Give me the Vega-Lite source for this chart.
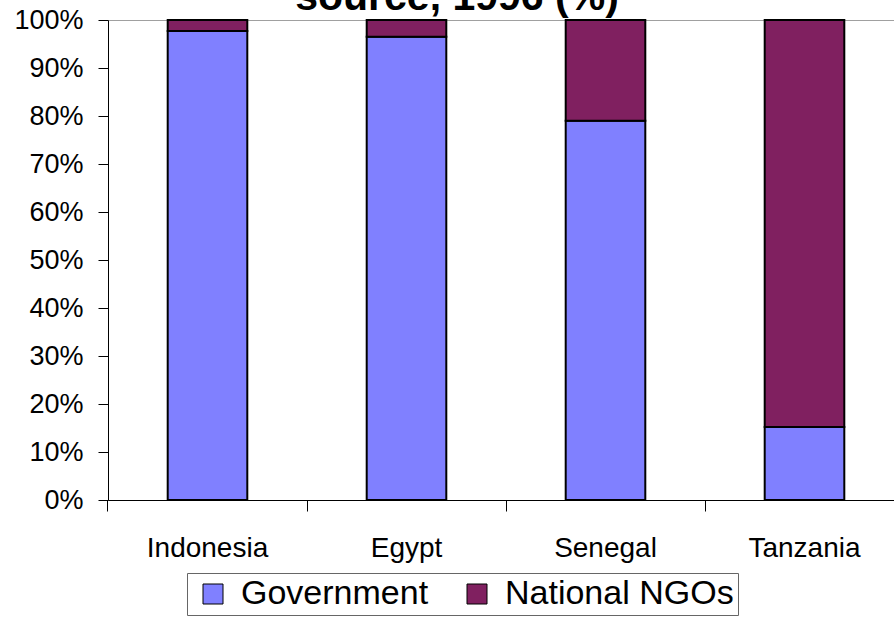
{
  "$schema": "https://vega.github.io/schema/vega-lite/v6.json",
  "autosize": "none",
  "padding": {"left": 108, "top": 20, "right": 0, "bottom": 117},
  "width": 796,
  "height": 480,
  "background": "white",
  "config": {
    "font": "Liberation Sans",
    "view": {"stroke": "#a0a0a0", "strokeWidth": 1}
  },
  "title": {
    "text": "source, 1996 (%)",
    "font": "Liberation Sans",
    "fontSize": 41,
    "fontWeight": "bold",
    "color": "black",
    "anchor": "middle",
    "baseline": "alphabetic",
    "offset": 0,
    "dy": 45,
    "dx": -49
  },
  "data": {
    "values": [
      {"country": "Indonesia", "source": "Government", "share": 97.7},
      {"country": "Indonesia", "source": "National NGOs", "share": 2.3},
      {"country": "Egypt", "source": "Government", "share": 96.5},
      {"country": "Egypt", "source": "National NGOs", "share": 3.5},
      {"country": "Senegal", "source": "Government", "share": 79.0},
      {"country": "Senegal", "source": "National NGOs", "share": 21.0},
      {"country": "Tanzania", "source": "Government", "share": 15.2},
      {"country": "Tanzania", "source": "National NGOs", "share": 84.8}
    ]
  },
  "mark": {"type": "bar", "stroke": "black", "strokeWidth": 2},
  "encoding": {
    "x": {
      "field": "country",
      "type": "nominal",
      "sort": ["Indonesia", "Egypt", "Senegal", "Tanzania"],
      "scale": {"paddingInner": 0.6, "paddingOuter": 0.3},
      "axis": {
        "title": null,
        "labelAngle": 0,
        "labelFontSize": 28,
        "labelColor": "black",
        "labelPadding": 23,
        "tickSize": 11,
        "tickColor": "black",
        "bandPosition": -0.75,
        "domainColor": "black",
        "grid": false
      }
    },
    "y": {
      "field": "share",
      "type": "quantitative",
      "stack": "zero",
      "scale": {"domain": [0, 100], "nice": false},
      "axis": {
        "title": null,
        "values": [0, 10, 20, 30, 40, 50, 60, 70, 80, 90, 100],
        "labelExpr": "datum.value + '%'",
        "labelFontSize": 27,
        "labelColor": "black",
        "labelPadding": 15,
        "tickSize": 10,
        "tickColor": "black",
        "domainColor": "black",
        "grid": false
      }
    },
    "color": {
      "field": "source",
      "type": "nominal",
      "sort": ["Government", "National NGOs"],
      "scale": {"domain": ["Government", "National NGOs"], "range": ["#8080ff", "#802060"]},
      "legend": {
        "title": null,
        "orient": "none",
        "legendX": 79,
        "legendY": 553,
        "direction": "horizontal",
        "symbolType": "square",
        "symbolSize": 400,
        "symbolStrokeColor": "black",
        "symbolStrokeWidth": 1,
        "symbolOpacity": 1,
        "labelFontSize": 34,
        "labelColor": "black",
        "labelLimit": 400,
        "labelOffset": 11,
        "symbolOffset": 5,
        "columnPadding": 26,
        "padding": 4,
        "strokeColor": "#666666",
        "fillColor": "white"
      }
    },
    "order": {"field": "source", "sort": "ascending"}
  }
}
